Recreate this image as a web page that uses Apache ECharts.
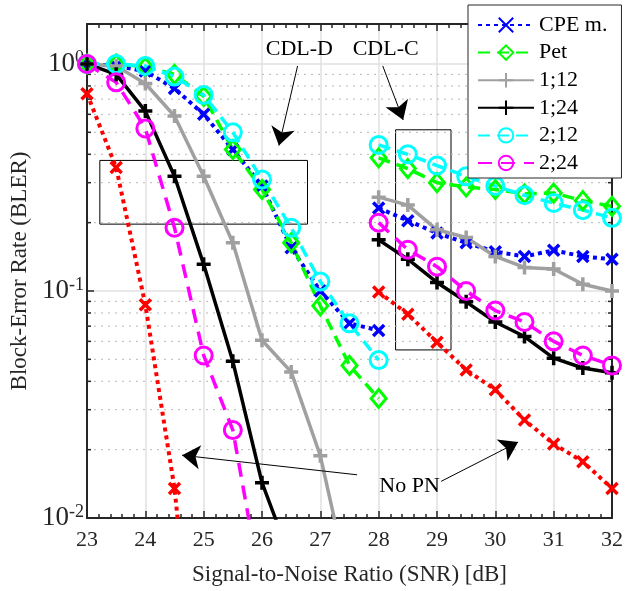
<!DOCTYPE html>
<html>
<head>
<meta charset="utf-8">
<script src="https://cdn.jsdelivr.net/npm/echarts@6/dist/echarts.min.js"></script>
<style>html,body{margin:0;padding:0;background:#fff}#c{width:626px;height:591px}</style>
</head>
<body>
<div id="c"></div>
<script>
// ---- data ----
const xD = [23, 23.5, 24, 24.5, 25, 25.5, 26, 26.5, 27, 27.5, 28];
const xC = [28, 28.5, 29, 29.5, 30, 30.5, 31, 31.5, 32];

const cpeD  = [1.0, 0.98, 0.93, 0.78, 0.60, 0.42, 0.29, 0.155, 0.10, 0.072, 0.067];
const petD  = [1.0, 1.0, 0.97, 0.90, 0.72, 0.42, 0.28, 0.163, 0.086, 0.047, 0.0336];
const g12D  = [1.0, 0.98, 0.82, 0.59, 0.32, 0.163, 0.0607, 0.044, 0.0188, 0.005];
const g24D  = [1.0, 0.90, 0.62, 0.32, 0.131, 0.049, 0.0143, 0.0065];
const c12D  = [1.0, 1.0, 0.98, 0.88, 0.73, 0.50, 0.31, 0.19, 0.11, 0.072, 0.0496];
const c24D  = [1.0, 0.83, 0.52, 0.19, 0.052, 0.0244, 0.0047];
const noPnD = [0.74, 0.35, 0.087, 0.0135, 0.0008];

const cpeC  = [0.232, 0.204, 0.18, 0.163, 0.149, 0.142, 0.151, 0.142, 0.138];
const petC  = [0.386, 0.346, 0.30, 0.287, 0.28, 0.268, 0.27, 0.25, 0.236];
const g12C  = [0.259, 0.239, 0.186, 0.172, 0.142, 0.127, 0.125, 0.107, 0.10];
const g24C  = [0.168, 0.138, 0.109, 0.0896, 0.073, 0.063, 0.0506, 0.0458, 0.0436];
const c12C  = [0.44, 0.40, 0.357, 0.32, 0.29, 0.264, 0.244, 0.227, 0.21];
const c24C  = [0.20, 0.152, 0.128, 0.10, 0.082, 0.073, 0.06, 0.052, 0.047];
const noPnC = [0.099, 0.079, 0.0594, 0.0449, 0.0367, 0.027, 0.0212, 0.0177, 0.0135];

const legendNames = ['CPE m.', 'Pet', '1;12', '1;24', '2;12', '2;24'];
const yMinorTicks = [0.02,0.03,0.04,0.05,0.06,0.07,0.08,0.09,0.2,0.3,0.4,0.5,0.6,0.7,0.8,0.9];
const xMin = 23, xMax = 32, yMin = 0.01, yMax = 1.5;

// ---- styles ----
const FONT = "'Liberation Serif', 'Times New Roman', serif";
const AX = '#262626';
const CROSS = 'path://M0 0L10 10M10 0L0 10';
const PLUS = 'path://M5 0L5 10M0 5L10 5';

function pairs(xs, ys) { return ys.map((y, i) => [xs[i], y]); }

const styles = {
  'CPE m.': {color:'#0000ff', width:4, type:[4,4], symbol:CROSS, size:11, bw:3.5, fill:'rgba(0,0,0,0)'},
  'Pet':    {color:'#00ff00', width:3.5, type:[12,7], symbol:'diamond', size:[15,18], bw:3, fill:'rgba(0,0,0,0)'},
  '1;12':   {color:'#a0a0a0', width:3.5, type:'solid', symbol:PLUS, size:14, bw:3.5, fill:'rgba(0,0,0,0)'},
  '1;24':   {color:'#000000', width:3.5, type:'solid', symbol:PLUS, size:14, bw:3.5, fill:'rgba(0,0,0,0)'},
  '2;12':   {color:'#00ffff', width:3.5, type:[12,7], symbol:'circle', size:17, bw:3, fill:'rgba(0,0,0,0)'},
  '2;24':   {color:'#ff00ff', width:3.5, type:[14,9], symbol:'circle', size:17, bw:3, fill:'rgba(0,0,0,0)'},
  'No PN':  {color:'#ff0000', width:4, type:[4,4], symbol:CROSS, size:11, bw:3.5, fill:'rgba(0,0,0,0)'}
};

function mk(name, data) {
  const s = styles[name];
  return {
    type:'line', name, data, xAxisIndex:0, yAxisIndex:0,
    symbol:s.symbol, symbolSize:s.size, showAllSymbol:true,
    lineStyle:{color:s.color, width:s.width, type:s.type, cap:'butt'},
    itemStyle:{color:s.fill, borderColor:s.color, borderWidth:s.bw},
    emphasis:{disabled:true}, silent:true, z:3
  };
}

const series = [
  mk('No PN', pairs(xD, noPnD)), mk('No PN', pairs(xC, noPnC)),
  mk('CPE m.', pairs(xD, cpeD)), mk('CPE m.', pairs(xC, cpeC)),
  mk('Pet', pairs(xD, petD)), mk('Pet', pairs(xC, petC)),
  mk('1;12', pairs(xD, g12D)), mk('1;12', pairs(xC, g12C)),
  mk('1;24', pairs(xD, g24D)), mk('1;24', pairs(xC, g24C)),
  mk('2;12', pairs(xD, c12D)), mk('2;12', pairs(xC, c12C)),
  mk('2;24', pairs(xD, c24D)), mk('2;24', pairs(xC, c24C))
];

// minor y gridlines + ticks (log decades 2..9)
series.unshift({
  type:'custom', name:'minorY', silent:true, z:1, clip:false,
  data: yMinorTicks.map(v => [xMin, v]),
  renderItem: function (params, api) {
    const v = api.value(1);
    const a = api.coord([xMin, v]), b = api.coord([xMax, v]);
    return {type:'group', children:[
      {type:'line', shape:{x1:a[0], y1:a[1], x2:b[0], y2:b[1]}, style:{stroke:'#b8b8b8', lineWidth:1, lineDash:[2,5]}},
      {type:'line', shape:{x1:a[0], y1:a[1], x2:a[0]+4, y2:a[1]}, style:{stroke:AX, lineWidth:1.5}},
      {type:'line', shape:{x1:b[0]-4, y1:b[1], x2:b[0], y2:b[1]}, style:{stroke:AX, lineWidth:1.5}}
    ]};
  }
});

// annotations
const txt = {fontFamily:FONT, fontSize:22, color:'#000'};
series.push({
  type:'line', name:'annot', data:[], silent:true, z:4,
  markArea:{silent:true, itemStyle:{color:'rgba(0,0,0,0)', borderColor:'#000', borderWidth:1},
    label:{show:false},
    data:[
      [{coord:[23.22, 0.376]}, {coord:[26.78, 0.197]}],
      [{coord:[28.29, 0.513]}, {coord:[29.24, 0.055]}]
    ]},
  markLine:{silent:true, symbol:['none','arrow'], symbolSize:18, animation:false,
    lineStyle:{color:'#000', width:1, type:'solid'}, label:{show:false},
    data:[
      [{coord:[26.61, 0.98]}, {coord:[26.29, 0.437]}],
      [{coord:[28.07, 0.98]}, {coord:[28.42, 0.567]}],
      [{coord:[27.63, 0.0155]}, {coord:[24.63, 0.0189]}],
      [{coord:[29.07, 0.0145]}, {coord:[30.39, 0.0216]}]
    ]},
  markPoint:{silent:true, symbol:'rect', symbolSize:1, itemStyle:{color:'rgba(0,0,0,0)'},
    label:Object.assign({show:true, position:'inside', formatter:'{b}'}, txt),
    data:[
      {name:'CDL-D', coord:[26.64, 1.16]},
      {name:'CDL-C', coord:[28.12, 1.16]},
      {name:'No PN', coord:[28.53, 0.0138]}
    ]}
});

function yFmt(v) {
  const e = Math.round(Math.log10(v));
  if (Math.abs(v - Math.pow(10, e)) / v > 1e-6) return '';
  return '{b|10}{s|' + e + '}';
}

const option = {
  animation:false,
  backgroundColor:'#fff',
  grid:{left:87, right:9, top:24, bottom:64, containLabel:false},
  legend:{
    orient:'vertical', left:468, top:5, padding:[9,14,4,9], itemGap:5.6,
    itemWidth:56, itemHeight:18, selectedMode:false,
    backgroundColor:'#fff', borderColor:AX, borderWidth:1,
    textStyle:{fontFamily:FONT, fontSize:22, color:'#000'},
    data:legendNames
  },
  xAxis:[
    {type:'value', min:xMin, max:xMax, interval:1, position:'bottom',
     name:'Signal-to-Noise Ratio (SNR) [dB]', nameLocation:'middle', nameGap:45,
     nameTextStyle:{fontFamily:FONT, fontSize:23, color:AX},
     axisLine:{show:true, onZero:false, lineStyle:{color:AX, width:2}},
     axisTick:{show:true, inside:true, length:7, lineStyle:{color:AX, width:1.5}},
     minorTick:{show:true, splitNumber:5, length:4, lineStyle:{color:AX, width:1.5}},
     axisLabel:{fontFamily:FONT, fontSize:22, color:AX, margin:11},
     splitLine:{show:true, lineStyle:{color:'#e0e0e0', width:1.5}}},
    {type:'value', min:xMin, max:xMax, interval:1, position:'top',
     axisLine:{show:true, onZero:false, lineStyle:{color:AX, width:2}},
     axisTick:{show:true, inside:true, length:7, lineStyle:{color:AX, width:1.5}},
     minorTick:{show:true, splitNumber:5, length:4, lineStyle:{color:AX, width:1.5}},
     axisLabel:{show:false}, splitLine:{show:false}}
  ],
  yAxis:[
    {type:'log', logBase:10, min:yMin, max:yMax, position:'left',
     name:'Block-Error Rate (BLER)', nameLocation:'middle', nameGap:55,
     nameTextStyle:{fontFamily:FONT, fontSize:23, color:AX},
     axisLine:{show:true, onZero:false, lineStyle:{color:AX, width:2}},
     axisTick:{show:true, inside:true, length:7, lineStyle:{color:AX, width:1.5}},
     axisLabel:{margin:3, formatter:yFmt, color:AX,
       rich:{b:{fontFamily:FONT, fontSize:27, color:AX},
             s:{fontFamily:FONT, fontSize:18, color:AX, verticalAlign:'bottom', padding:[0,0,11,0]}}},
     splitLine:{show:true, lineStyle:{color:'#e0e0e0', width:1.5}}},
    {type:'log', logBase:10, min:yMin, max:yMax, position:'right',
     axisLine:{show:true, onZero:false, lineStyle:{color:AX, width:2}},
     axisTick:{show:true, inside:true, length:7, lineStyle:{color:AX, width:1.5}},
     axisLabel:{show:false}, splitLine:{show:false}}
  ],
  series:series
};

const chart = echarts.init(document.getElementById('c'), null, {renderer:'canvas'});
chart.setOption(option);
</script>
</body>
</html>
